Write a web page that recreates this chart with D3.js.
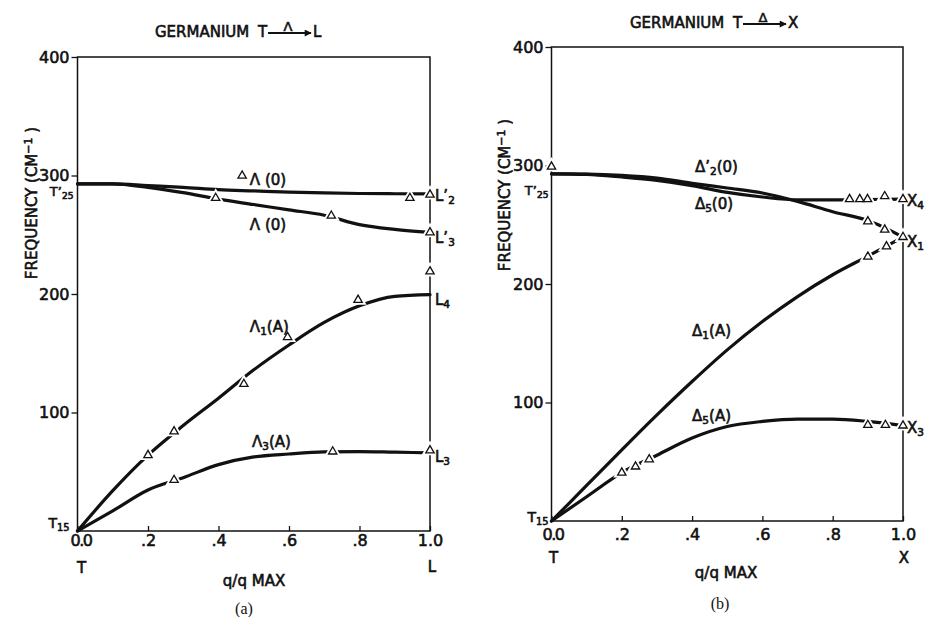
<!DOCTYPE html>
<html>
<head>
<meta charset="utf-8">
<script src="https://cdn.jsdelivr.net/npm/d3@7"></script>
<style>
  html, body { margin: 0; padding: 0; background: #fff; }
  svg { display: block; }
  text { font-family: "DejaVu Sans", sans-serif; fill: #111; }
  .serif { font-family: "Liberation Serif", "DejaVu Serif", serif; }
</style>
</head>
<body>
<svg id="chart" width="941" height="617"></svg>
<script>
// ---- reduced wave vector grid and tick labels ----
const qGrid = [0, 0.1, 0.2, 0.3, 0.4, 0.5, 0.6, 0.7, 0.8, 0.9, 1.0];
const qTicks = [0, 0.2, 0.4, 0.6, 0.8, 1.0];
const qTickLabels = ["0.0", ".2", ".4", ".6", ".8", "1.0"];
const freqTicks = [100, 200, 300, 400];
const freqTickLabels = ["100", "200", "300", "400"];

// ---- (a) Γ → L along Λ : calculated branches (cm⁻¹) ----
const lamOptUpper = [293, 293, 291.5, 290, 288, 287, 286, 285.3, 284.8, 284.6, 284.5];
const lamOptLower = [293, 293, 290, 285.5, 280, 275.5, 271, 266.5, 258.5, 254.5, 252];
const lam1Acoustic = [0, 34, 64, 89, 112, 136, 157, 176, 190, 198, 199.5];
const lam3Acoustic = [0, 17, 34.6, 45, 56, 62.5, 65, 66.7, 67, 66.5, 66];

// ---- (a) measured points ----
const lamOptUpperPtsQ = [0.467, 0.943, 1.0];
const lamOptUpperPtsV = [299.8, 281, 283.8];
const lamOptLowerPtsQ = [0.392, 0.72, 1.0];
const lamOptLowerPtsV = [281, 266, 252];
const lam1PtsQ = [0.2, 0.274, 0.472, 0.596, 0.796, 1.0];
const lam1PtsV = [64, 84, 124, 163.6, 195, 219];
const lam3PtsQ = [0.274, 0.724, 1.0];
const lam3PtsV = [43, 67, 68];

// ---- (b) Γ → X along Δ : calculated branches (cm⁻¹) ----
const del2pOpt = [293, 292.8, 291.7, 289.4, 285, 281, 276.8, 269.7, 261, 253.6, 239.6];
const del5Opt = [293, 292.5, 290.3, 287.4, 283, 277.3, 273.4, 271, 271, 271.3, 271.6];
const del1Acoustic = [0, 30, 60, 89.5, 117.7, 144.4, 168.3, 189.4, 207.8, 223.5, 239.6];
const del5Acoustic = [0, 20.5, 40.8, 55.5, 70, 79.7, 84, 86, 86, 84, 80.5];

// ---- (b) measured points ----
const gammaPtQ = [0];
const gammaPtV = [299];
const del2pPtsQ = [0.9, 0.948, 1.0];
const del2pPtsV = [252.8, 245.8, 239.6];
const del5PtsQ = [0.848, 0.877, 0.899, 0.948, 1.0];
const del5PtsV = [271.6, 271.6, 271.6, 274, 271.6];
const del1PtsQ = [0.9, 0.953];
const del1PtsV = [223, 231.7];
const del5APtsQ = [0.2, 0.239, 0.278, 0.9, 0.95, 1.0];
const del5APtsV = [40.8, 45.9, 52, 81, 81, 80.5];

const INK = "#111";
const TEXT_STROKE = 0.6;
const svg = d3.select("#chart");

function styleTicks(sel) {
  sel.selectAll("line").attr("stroke", INK).attr("stroke-width", 1.3);
  sel.selectAll("text").style("font-family", "DejaVu Sans").style("font-size", "16px")
    .attr("fill", INK).attr("stroke", INK).attr("stroke-width", TEXT_STROKE);
}

function panel(opts) {
  const x = d3.scaleLinear().domain([0, 1]).range(opts.xr);
  const y = d3.scaleLinear().domain([0, 400]).range(opts.yr);
  const g = svg.append("g");

  // frame
  g.append("rect")
    .attr("x", x(0)).attr("y", y(400))
    .attr("width", x(1) - x(0)).attr("height", y(0) - y(400))
    .attr("fill", "none").attr("stroke", INK).attr("stroke-width", 1.5);

  // frequency axis
  const ya = g.append("g").attr("transform", `translate(${x(0)},0)`)
    .call(d3.axisLeft(y).tickValues(freqTicks).tickSize(6).tickSizeOuter(0).tickPadding(2)
      .tickFormat((d, i) => freqTickLabels[i]));
  ya.select(".domain").remove();
  styleTicks(ya);

  // reduced wave vector axis (ticks point inward)
  const xa = g.append("g").attr("transform", `translate(0,${y(0)})`)
    .call(d3.axisBottom(x).tickValues(qTicks).tickSizeInner(-5).tickSizeOuter(0)
      .tickPadding(opts.xPad).tickFormat((d, i) => qTickLabels[i]));
  xa.select(".domain").remove();
  styleTicks(xa);
  xa.selectAll(".tick").filter(d => d === 0).select("text")
    .attr("dx", opts.zeroShift).style("letter-spacing", "-1.5px");

  const line = d3.line().x(d => x(d[0])).y(d => y(d[1])).curve(d3.curveMonotoneX);
  opts.curves.forEach(vals => {
    g.append("path").datum(d3.zip(qGrid, vals))
      .attr("d", line).attr("fill", "none").attr("stroke", INK)
      .attr("stroke-width", 3.2).attr("stroke-linecap", "round").attr("stroke-linejoin", "round");
  });

  const tri = d3.symbol(d3.symbolTriangle, 30);
  opts.points.forEach(([qs, vs]) => {
    const pts = d3.zip(qs, vs);
    // white halo opens a small gap in the curve round each measured point
    g.append("g").selectAll("path").data(pts).join("path")
      .attr("d", tri).attr("transform", d => `translate(${x(d[0])},${y(d[1])})`)
      .attr("fill", "#fff").attr("stroke", "#fff").attr("stroke-width", 5);
    g.append("g").selectAll("path").data(pts).join("path")
      .attr("d", tri).attr("transform", d => `translate(${x(d[0])},${y(d[1])})`)
      .attr("fill", "#fff").attr("stroke", INK).attr("stroke-width", 1.3);
  });
  return { g, x, y };
}

// text helper: parts = [[string, kind]] where kind is "", "sub", "sup"
function label(g, px, py, parts, size, anchor) {
  const t = g.append("text").attr("x", px).attr("y", py)
    .style("font-size", size + "px").attr("text-anchor", anchor || "start")
    .attr("stroke", INK).attr("stroke-width", TEXT_STROKE);
  parts.forEach(([s, kind]) => {
    const sp = t.append("tspan").text(s);
    if (kind === "sub") sp.attr("baseline-shift", "-28%").style("font-size", (size * 0.7) + "px");
    if (kind === "sup") sp.attr("baseline-shift", "38%").style("font-size", (size * 0.7) + "px");
  });
  return t;
}

// ================= panel (a) =================
const A = panel({
  xr: [77.5, 430], yr: [531, 57], xPad: 4, zeroShift: 3,
  curves: [lamOptUpper, lamOptLower, lam1Acoustic, lam3Acoustic],
  points: [[lamOptUpperPtsQ, lamOptUpperPtsV], [lamOptLowerPtsQ, lamOptLowerPtsV],
           [lam1PtsQ, lam1PtsV], [lam3PtsQ, lam3PtsV]]
});

// ================= panel (b) =================
const B = panel({
  xr: [551.5, 903], yr: [521, 47], xPad: 8, zeroShift: 1,
  curves: [del5Opt, del2pOpt, del1Acoustic, del5Acoustic],
  points: [[gammaPtQ, gammaPtV], [del2pPtsQ, del2pPtsV], [del5PtsQ, del5PtsV],
           [del1PtsQ, del1PtsV], [del5APtsQ, del5APtsV]]
});

// ---- titles with arrows ----
svg.append("defs").append("marker").attr("id", "arrowhead")
  .attr("viewBox", "0 0 10 10").attr("refX", 9).attr("refY", 5)
  .attr("markerWidth", 10).attr("markerHeight", 7).attr("markerUnits", "userSpaceOnUse")
  .attr("orient", "auto")
  .append("path").attr("d", "M0,0 L10,5 L0,10 Z").attr("fill", INK);

function title(x0, base, greek, endLetter) {
  const g = svg.append("g");
  label(g, x0, base, [["GERMANIUM", ""]], 15);
  label(g, x0 + 103, base, [["T", ""]], 15);
  g.append("line").attr("x1", x0 + 113).attr("x2", x0 + 156)
    .attr("y1", base - 4).attr("y2", base - 4)
    .attr("stroke", INK).attr("stroke-width", 1.8).attr("marker-end", "url(#arrowhead)");
  label(g, x0 + 133, base - 6, [[greek, ""]], 13, "middle");
  label(g, x0 + 158, base, [[endLetter, ""]], 15);
}
title(155, 37, "Λ", "L");
title(630, 28, "Δ", "X");

// ---- frequency axis titles ----
function yTitle(px, py) {
  const t = svg.append("text")
    .attr("transform", `translate(${px},${py}) rotate(-90)`)
    .attr("text-anchor", "middle").style("font-size", "15px")
    .attr("stroke", INK).attr("stroke-width", TEXT_STROKE);
  t.append("tspan").text("FREQUENCY (CM");
  t.append("tspan").text("−1").attr("baseline-shift", "45%").style("font-size", "11px");
  t.append("tspan").text(" )");
}
yTitle(37, 203);
yTitle(510, 195);

// ---- panel (a) annotations ----
{
  const { g, x, y } = A;
  label(g, x(0.489), y(292), [["Λ (0)", ""]], 15);
  label(g, x(0.489), y(254), [["Λ (0)", ""]], 15);
  label(g, x(0.489), y(168), [["Λ", ""], ["1", "sub"], ["(A)", ""]], 15);
  label(g, x(0.495), y(71), [["Λ", ""], ["3", "sub"], ["(A)", ""]], 15);

  label(g, x(1) + 5, y(278.5), [["L’", ""], ["2", "sub"]], 15);
  label(g, x(1) + 5, y(243), [["L’", ""], ["3", "sub"]], 15);
  label(g, x(1) + 5, y(190.7), [["L", ""], ["4", "sub"]], 15);
  label(g, x(1) + 5, y(58), [["L", ""], ["3", "sub"]], 15);

  label(g, x(0) - 4, y(282.5), [["T’", ""], ["25", "sub"]], 13, "end");
  label(g, x(0) - 8, y(0) - 3, [["T", ""], ["15", "sub"]], 14, "end");

  label(g, x(0) + 4, 573, [["T", ""]], 15, "middle");
  label(g, x(1) + 2, 572, [["L", ""]], 15, "middle");
  label(g, 254, 586, [["q/q MAX", ""]], 15, "middle");
  svg.append("text").attr("class", "serif").attr("x", 244).attr("y", 614)
    .attr("text-anchor", "middle").style("font-size", "16px").text("(a)");
}

// ---- panel (b) annotations ----
{
  const { g, x, y } = B;
  label(g, x(0.408), y(294.5), [["Δ’", ""], ["2", "sub"], ["(0)", ""]], 15);
  label(g, x(0.408), y(263), [["Δ", ""], ["5", "sub"], ["(0)", ""]], 15);
  label(g, x(0.4), y(156), [["Δ", ""], ["1", "sub"], ["(A)", ""]], 15);
  label(g, x(0.4), y(84), [["Δ", ""], ["5", "sub"], ["(A)", ""]], 15);

  label(g, x(1) + 4, y(266), [["X", ""], ["4", "sub"]], 15);
  label(g, x(1) + 4, y(231), [["X", ""], ["1", "sub"]], 15);
  label(g, x(1) + 4, y(74), [["X", ""], ["3", "sub"]], 15);

  label(g, x(0) - 3, y(275), [["T’", ""], ["25", "sub"]], 13, "end");
  label(g, x(0) - 3, y(0) + 1, [["T", ""], ["15", "sub"]], 14, "end");

  label(g, x(0) + 2, 563, [["T", ""]], 15, "middle");
  label(g, x(1) + 1, 563, [["X", ""]], 15, "middle");
  label(g, 726, 578, [["q/q MAX", ""]], 15, "middle");
  svg.append("text").attr("class", "serif").attr("x", 720).attr("y", 609)
    .attr("text-anchor", "middle").style("font-size", "16px").text("(b)");
}
</script>
</body>
</html>
